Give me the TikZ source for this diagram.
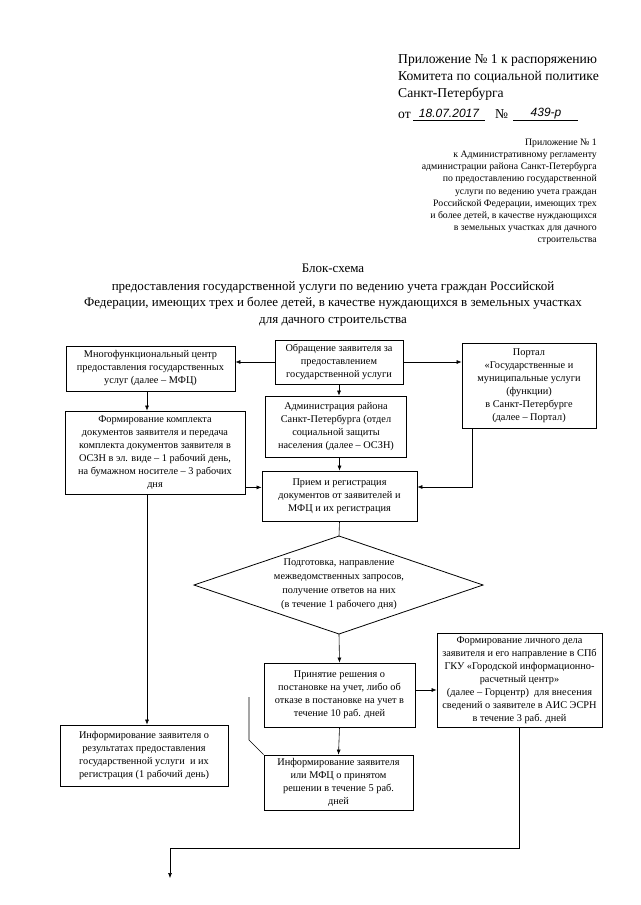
\documentclass[tikz,border=0pt]{standalone}
\usepackage{fontspec}
\setmainfont{Liberation Serif}
\newfontfamily\handfont{Liberation Sans}
\usetikzlibrary{arrows.meta,shapes.geometric}
\begin{document}
\begin{tikzpicture}[x=1pt,y=-1pt,
  box/.style={draw, line width=0.8pt, align=center, inner sep=1pt,
    font=\fontsize{10.3}{13}\selectfont},
  arr/.style={-{Latex[length=5pt,width=4pt]}, line width=0.6pt},
  ln/.style={line width=0.6pt},
  hand/.style={font=\handfont\itshape\fontsize{12}{12}\selectfont, inner sep=0pt, anchor=base}]
\useasboundingbox (0,0) rectangle (640,905);

% header
\node[anchor=north west, align=left, inner sep=0pt, font=\fontsize{13.6}{17}\selectfont] (h1) at (398,54)
  {Приложение № 1 к распоряжению\\Комитета по социальной политике\\Санкт-Петербурга};
\node[anchor=base west, inner sep=0pt, font=\fontsize{13.6}{17}\selectfont] (ot) at (398,118) {от};
\node[anchor=base west, inner sep=0pt, font=\fontsize{13.6}{17}\selectfont] (no) at (495,118) {№};
\node[hand] (date) at (449,117) {18.07.2017};
\node[hand] (num) at (546,116) {439-р};
\draw[ln] (413,120) -- (485,120);
\draw[ln] (513,120) -- (578,120);

\node[anchor=north east, align=right, inner sep=0pt, font=\fontsize{9.8}{12.1}\selectfont] (h2) at (597,139)
  {Приложение № 1\\к Административному регламенту\\администрации района Санкт-Петербурга\\по предоставлению государственной\\услуги по ведению учета граждан\\Российской Федерации, имеющих трех\\и более детей, в качестве нуждающихся\\в земельных участках для дачного\\строительства};

\node[inner sep=0pt, font=\fontsize{13}{16.5}\selectfont] (t0) at (333,268) {Блок-схема};
\node[anchor=north, align=center, inner sep=0pt, font=\fontsize{13}{16.5}\selectfont] (t1) at (333,281)
  {предоставления государственной услуги по ведению учета граждан Российской\\Федерации, имеющих трех и более детей, в качестве нуждающихся в земельных участках\\для дачного строительства};

% boxes
\node[box, minimum width=128pt, minimum height=44pt] (A) at (339,362)
  {Обращение заявителя за\\предоставлением\\государственной услуги};
\node[box, minimum width=169pt, minimum height=45pt] (B) at (150.5,368.5)
  {Многофункциональный центр\\предоставления государственных\\услуг (далее – МФЦ)};
\node[box, minimum width=141pt, minimum height=61pt] (C) at (336,426.5)
  {Администрация района\\Санкт-Петербурга (отдел\\социальной защиты\\населения (далее – ОСЗН)};
\node[box, minimum width=134pt, minimum height=85pt] (F) at (529,385.5)
  {Портал\\«Государственные и\\муниципальные услуги\\(функции)\\в Санкт-Петербурге\\(далее – Портал)};
\node[box, minimum width=180pt, minimum height=83pt] (D) at (155,452.5)
  {Формирование комплекта\\документов заявителя и передача\\комплекта документов заявителя в\\ОСЗН в эл. виде – 1 рабочий день,\\на бумажном носителе – 3 рабочих\\дня};
\node[box, minimum width=155pt, minimum height=50pt] (E) at (339.5,496)
  {Прием и регистрация\\документов от заявителей и\\МФЦ и их регистрация};

% diamond
\coordinate (Gt) at (339,536);
\coordinate (Gr) at (483,585);
\coordinate (Gb) at (339,634);
\coordinate (Gl) at (194,585);
\draw[line width=0.8pt] (Gt) -- (Gr) -- (Gb) -- (Gl) -- cycle;
\node[align=center, inner sep=0pt, font=\fontsize{10.3}{14}\selectfont] (G) at (339,584)
  {Подготовка, направление\\межведомственных запросов,\\получение ответов на них\\(в течение 1 рабочего дня)};

\node[box, minimum width=151pt, minimum height=64pt] (H) at (339.5,695)
  {Принятие решения о\\постановке на учет, либо об\\отказе в постановке на учет в\\течение 10 раб. дней};
\node[box, minimum width=165pt, minimum height=94pt] (I) at (519.5,680)
  {Формирование личного дела\\заявителя и его направление в СПб\\ГКУ «Городской информационно-\\расчетный центр»\\(далее – Горцентр) \ для внесения\\сведений о заявителе в АИС ЭСРН\\в течение 3 раб. дней};
\node[box, minimum width=168pt, minimum height=61pt] (J) at (144,755.5)
  {Информирование заявителя о\\результатах предоставления\\государственной услуги \ и их\\регистрация (1 рабочий день)};
\node[box, minimum width=149pt, minimum height=55pt] (K) at (338.5,782.5)
  {Информирование заявителя\\или МФЦ о принятом\\решении в течение 5 раб.\\дней};

% connectors
\draw[arr] (A.west) -- (A.west -| B.east);
\draw[arr] (A.east) -- (A.east -| F.west);
\draw[arr] (A.south) -- (A.south |- C.north);
\draw[arr] ([xshift=-3.5pt]B.south) -- ([xshift=-3.5pt]B.south |- D.north);
\draw[arr] ([xshift=-8pt]D.south) -- ([xshift=-8pt]D.south |- J.north);
\draw[arr] (E.north |- C.south) -- (E.north);
\draw[arr] ([yshift=7pt]D.south east) -- ([yshift=7pt]D.south east -| E.west);
\draw[arr] ([xshift=-57pt]F.south) |- ([yshift=9pt]E.east);
\draw[ln] (E.south) -- (Gt);
\draw[arr] (Gb) -- (H.north);
\draw[arr] ([yshift=5pt]H.east) -- ([yshift=5pt]H.east -| I.west);
\draw[arr] (H.south) -- (K.north);
\coordinate (kb) at (249,740);
\coordinate (kt) at (249,697);
\draw[ln] (K.north west) -- (kb) -- (kt);
\coordinate (bend) at (170,848);
\coordinate (endpt) at (170,878);
\draw[arr] (I.south) |- (bend) -- (endpt);
\end{tikzpicture}
\end{document}
